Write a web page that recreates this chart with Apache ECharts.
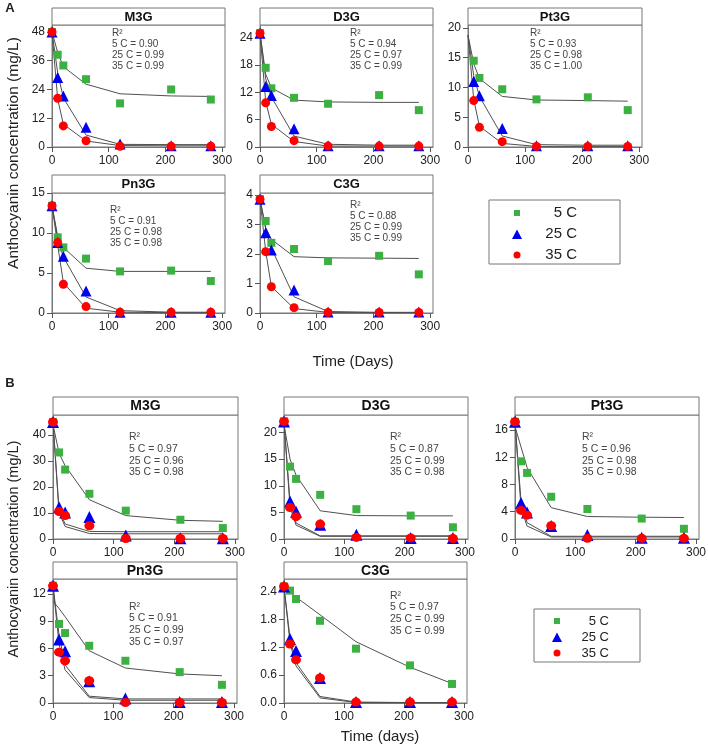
<!DOCTYPE html>
<html><head><meta charset="utf-8">
<script src="https://cdn.jsdelivr.net/npm/echarts@6/dist/echarts.min.js"></script>
<style>html,body{margin:0;padding:0;background:#fff}#c{width:708px;height:746px}</style>
</head><body><div id="c"></div>
<script>
// ---- data ----
const days = [0, 10, 20, 60, 120, 210, 280];
const temps = ['5 C', '25 C', '35 C'];
const xTicks = [0, 100, 200, 300];

// Panel A
const aM3G_obs = [[48, 38.5, 34, 28.3, 18.2, 24, 19.8], [48, 29, 21.3, 8.2, 1.2, 0.5, 0.5], [48, 20.3, 8.8, 2.6, 0.3, 0.3, 0.3]];
const aM3G_fit = [[48, 39.5, 33.5, 26.2, 22.2, 21.3, 21.1], [48, 31, 20.5, 5, 1.1, 1, 1], [48, 20, 9.5, 2.5, 0.6, 0.5, 0.5]];
const aM3G_r2 = ['0.90', '0.99', '0.99'];
const aM3G_yTicks = [0, 12, 24, 36, 48];

const aD3G_obs = [[25, 17.4, 12.9, 10.8, 9.5, 11.4, 8.1], [25, 13.3, 11.3, 4, 0.3, 0.3, 0.3], [25, 9.7, 4.5, 1.4, 0.2, 0.2, 0.2]];
const aD3G_fit = [[25, 16, 13, 10.3, 9.9, 9.8, 9.8], [25, 15, 11, 2.4, 0.6, 0.4, 0.4], [25, 10, 5, 1.2, 0.2, 0.2, 0.2]];
const aD3G_r2 = ['0.94', '0.97', '0.99'];
const aD3G_yTicks = [0, 6, 12, 18, 24];

const aPt3G_obs = [[null, 14.5, 11.6, 9.7, 8.0, 8.35, 6.2], [null, 11, 8.6, 3.1, 0.2, 0.2, 0.2], [null, 7.8, 3.3, 0.9, 0.1, 0.1, 0.1]];
const aPt3G_fit = [[18.8, 14, 11.5, 8.5, 7.9, 7.8, 7.7], [18.8, 12, 8.5, 1.85, 0.4, 0.3, 0.3], [18.8, 8, 3.5, 0.6, 0.1, 0.1, 0.1]];
const aPt3G_r2 = ['0.93', '0.98', '1.00'];
const aPt3G_yTicks = [0, 5, 10, 15, 20];

const aPn3G_obs = [[13.4, 9.46, 8.2, 6.8, 5.2, 5.3, 4.0], [13.4, 8.8, 7.1, 2.75, 0.1, 0.1, 0.1], [13.4, 8.8, 3.6, 0.8, 0.1, 0.1, 0.1]];
const aPn3G_fit = [[13.4, 9.6, 8.2, 5.6, 5.2, 5.2, 5.2], [13.4, 9.3, 7, 2.0, 0.3, 0.1, 0.1], [13.4, 8.5, 3.8, 0.6, 0.1, 0.05, 0.05]];
const aPn3G_r2 = ['0.91', '0.98', '0.98'];
const aPn3G_yTicks = [0, 5, 10, 15];

const aC3G_obs = [[3.86, 3.12, 2.38, 2.17, 1.76, 1.94, 1.31], [3.86, 2.72, 2.14, 0.78, 0.03, 0.03, 0.03], [3.86, 2.08, 0.89, 0.18, 0.02, 0.02, 0.02]];
const aC3G_fit = [[3.86, 2.9, 2.5, 1.91, 1.87, 1.86, 1.85], [3.86, 2.85, 2.2, 0.55, 0.05, 0.02, 0.02], [3.86, 2.1, 0.9, 0.15, 0.02, 0.02, 0.02]];
const aC3G_r2 = ['0.88', '0.99', '0.99'];
const aC3G_yTicks = [0, 1, 2, 3, 4];

// Panel B
const bM3G_obs = [[45, 33.3, 26.7, 17.4, 10.9, 7.4, 4.2], [45, 12.2, 10.2, 8.5, 1.3, 0.3, 0.3], [45, 10.6, 9.0, 5.1, 0.2, 0.2, 0.2]];
const bM3G_fit = [[44, 33, 28.2, 15.1, 9.0, 7.2, 6.8], [45, 11, 5.8, 2.9, 2.8, 2.8, 2.8], [45, 10, 4.8, 2.1, 2.0, 2.0, 2.0]];
const bM3G_r2 = ['0.97', '0.96', '0.98'];
const bM3G_yTicks = [0, 10, 20, 30, 40];

const bD3G_obs = [[22.1, 13.6, 11.3, 8.3, 5.6, 4.4, 2.2], [22.1, 7.05, 5.1, 2.7, 0.8, 0.2, 0.2], [22.1, 5.9, 4.2, 2.8, 0.3, 0.2, 0.1]];
const bD3G_fit = [[21.5, 15, 12, 5.3, 4.4, 4.35, 4.35], [22, 7, 3.0, 0.6, 0.6, 0.6, 0.6], [22, 6, 2.6, 0.5, 0.5, 0.5, 0.5]];
const bD3G_r2 = ['0.87', '0.99', '0.98'];
const bD3G_yTicks = [0, 5, 10, 15, 20];

const bPt3G_obs = [[17.2, 11.4, 9.7, 6.2, 4.4, 3.0, 1.5], [17.2, 5.3, 3.9, 1.9, 0.6, 0.2, 0.2], [17.2, 4.2, 3.5, 1.95, 0.1, 0.1, 0.1]];
const bPt3G_fit = [[16.5, 13.5, 10.5, 4.6, 3.3, 3.2, 3.15], [17.2, 5.5, 2.4, 0.4, 0.4, 0.4, 0.4], [17.2, 4.5, 1.9, 0.3, 0.3, 0.3, 0.3]];
const bPt3G_r2 = ['0.96', '0.98', '0.98'];
const bPt3G_yTicks = [0, 4, 8, 12, 16];

const bPn3G_obs = [[12.9, 8.7, 7.7, 6.3, 4.65, 3.4, 2.0], [12.9, 7.0, 5.7, 2.4, 0.5, 0.1, 0.1], [12.9, 5.6, 4.65, 2.45, 0.05, 0.05, 0.05]];
const bPn3G_fit = [[11.2, 10.4, 9.5, 5.75, 3.85, 3.2, 3.0], [12.9, 7.5, 4.2, 0.75, 0.45, 0.45, 0.45], [12.9, 6.5, 3.65, 0.6, 0.3, 0.3, 0.3]];
const bPn3G_r2 = ['0.91', '0.99', '0.97'];
const bPn3G_yTicks = [0, 3, 6, 9, 12];

const bC3G_obs = [[2.51, 2.42, 2.24, 1.77, 1.17, 0.81, 0.41], [2.51, 1.38, 1.12, 0.54, 0.02, 0.02, 0.02], [2.51, 1.27, 0.93, 0.54, 0.02, 0.02, 0.02]];
const bC3G_fit = [[2.5, 2.4, 2.28, 1.9, 1.32, 0.77, 0.42], [2.5, 1.4, 0.87, 0.14, 0.02, 0.01, 0.01], [2.5, 1.3, 0.8, 0.11, 0.01, 0.01, 0.01]];
const bC3G_r2 = ['0.97', '0.99', '0.99'];
const bC3G_yTicks = [0, 0.6, 1.2, 1.8, 2.4];

// ---- layout / style ----
const FONT = "'Liberation Sans', Arial, sans-serif";
const colors = ['#3cb043', '#0000f0', '#ff0000'];
const symbols = ['rect', 'triangle', 'circle'];
const frameColor = '#777';

const panels = [
  {title:'M3G', obs:aM3G_obs, fit:aM3G_fit, r2:aM3G_r2, yTicks:aM3G_yTicks, yMax:50.9, left:52, top:25, w:173, h:122, hTop:8, rx:112, ry:28, b:false},
  {title:'D3G', obs:aD3G_obs, fit:aD3G_fit, r2:aD3G_r2, yTicks:aD3G_yTicks, yMax:26.8, left:260, top:25, w:173, h:122, hTop:8, rx:350, ry:28, b:false},
  {title:'Pt3G', obs:aPt3G_obs, fit:aPt3G_fit, r2:aPt3G_r2, yTicks:aPt3G_yTicks, yMax:20.5, left:468, top:25, w:174, h:122, hTop:8, rx:530, ry:28, b:false},
  {title:'Pn3G', obs:aPn3G_obs, fit:aPn3G_fit, r2:aPn3G_r2, yTicks:aPn3G_yTicks, yMax:15, left:52, top:193, w:173, h:120, hTop:175, rx:110, ry:205, b:false},
  {title:'C3G', obs:aC3G_obs, fit:aC3G_fit, r2:aC3G_r2, yTicks:aC3G_yTicks, yMax:4.07, left:260, top:193, w:173, h:120, hTop:175, rx:350, ry:200, b:false},
  {title:'M3G', obs:bM3G_obs, fit:bM3G_fit, r2:bM3G_r2, yTicks:bM3G_yTicks, yMax:47.7, left:53, top:415, w:185, h:124, hTop:397, rx:129, ry:431.5, b:true},
  {title:'D3G', obs:bD3G_obs, fit:bD3G_fit, r2:bD3G_r2, yTicks:bD3G_yTicks, yMax:23.3, left:284, top:415, w:184, h:124, hTop:397, rx:390, ry:431.5, b:true},
  {title:'Pt3G', obs:bPt3G_obs, fit:bPt3G_fit, r2:bPt3G_r2, yTicks:bPt3G_yTicks, yMax:18.2, left:515, top:415, w:184, h:124, hTop:397, rx:582, ry:431.5, b:true},
  {title:'Pn3G', obs:bPn3G_obs, fit:bPn3G_fit, r2:bPn3G_r2, yTicks:bPn3G_yTicks, yMax:13.65, left:53, top:579, w:184, h:124, hTop:562, rx:129, ry:601, b:true},
  {title:'C3G', obs:bC3G_obs, fit:bC3G_fit, r2:bC3G_r2, yTicks:bC3G_yTicks, yMax:2.67, left:284, top:579, w:183, h:124, hTop:562, rx:390, ry:590, b:true, dec:1}
];

const grids = [], xAxes = [], yAxes = [], series = [], graphics = [];

panels.forEach((p, i) => {
  grids.push({left:p.left, top:p.top, width:p.w, height:p.h, show:true, borderColor:frameColor, borderWidth:1,
    backgroundColor:'transparent', containLabel:false, outerBoundsMode:'none'});
  const lab = {fontFamily:FONT, fontSize:12, color:'#222'};
  xAxes.push({type:'value', gridIndex:i, min:0, max:305,
    axisLine:{show:true, lineStyle:{color:frameColor, width:1}},
    axisTick:{show:true, length:5, customValues:xTicks, lineStyle:{color:'#555'}},
    axisLabel:Object.assign({margin:8, customValues:xTicks}, lab),
    splitLine:{show:false}});
  yAxes.push({type:'value', gridIndex:i, min:0, max:p.yMax,
    axisLine:{show:true, lineStyle:{color:frameColor, width:1}},
    axisTick:{show:true, length:5, customValues:p.yTicks, lineStyle:{color:'#555'}},
    axisLabel:Object.assign({margin:7, customValues:p.yTicks,
      formatter: v => p.dec ? Number(v).toFixed(p.dec) : String(v)}, lab),
    splitLine:{show:false}});
  // fitted lines
  p.fit.forEach((f, k) => {
    series.push({type:'line', name:'fit', xAxisIndex:i, yAxisIndex:i, data:days.map((d, j) => [d, f[j]]),
      symbol:'none', showSymbol:false, silent:true, z:2, clip:false,
      lineStyle:{color:'#505050', width:1}});
  });
  // observations
  p.obs.forEach((o, k) => {
    let size;
    if (k === 0) size = 8;
    else if (k === 1) size = p.b ? 12 : 11;
    else size = p.b ? [10, 9] : 9;
    series.push({type:'scatter', name:temps[k], xAxisIndex:i, yAxisIndex:i,
      data:days.map((d, j) => [d, o[j]]).filter(q => q[1] !== null),
      symbol:symbols[k], symbolSize:size, clip:false, z:3,
      itemStyle:{color:colors[k], opacity:1}});
  });
  // header strip
  const hh = p.top - p.hTop;
  graphics.push({type:'rect', shape:{x:p.left, y:p.hTop, width:p.w, height:hh},
    style:{fill:'#fff', stroke:frameColor, lineWidth:1}, z:10, silent:true});
  graphics.push({type:'text', x:p.left + p.w / 2, y:p.hTop + hh / 2 + 0.5, z:11, silent:true,
    style:{text:p.title, font:'bold ' + (p.b ? 14 : 13) + 'px ' + FONT, fill:'#111',
      align:'center', verticalAlign:'middle', textAlign:'center', textVerticalAlign:'middle'}});
  // R2 annotation
  const lines = ['R\u00B2'].concat(temps.map((t, k) => t + ' = ' + p.r2[k]));
  graphics.push({type:'text', x:p.rx, y:p.ry, z:11, silent:true,
    style:{text:lines.join('\n'), font:(p.b ? 10.5 : 10) + 'px ' + FONT, fill:'#444',
      lineHeight:p.b ? 11.7 : 11, align:'left', verticalAlign:'top', textAlign:'left', textVerticalAlign:'top'}});
});

// figure labels
function addText(txt, x, y, font, rot) {
  graphics.push({type:'text', x:x, y:y, rotation:rot || 0, z:11, silent:true,
    style:{text:txt, font:font, fill:'#222', align:'center', verticalAlign:'middle', textAlign:'center', textVerticalAlign:'middle'}});
}
addText('A', 10, 8, 'bold 13px ' + FONT);
addText('B', 10, 383, 'bold 13px ' + FONT);
addText('Anthocyanin concentration (mg/L)', 14, 153, '15.5px ' + FONT, Math.PI / 2);
addText('Anthocyanin concentration (mg/L)', 13.5, 549, '14.5px ' + FONT, Math.PI / 2);
addText('Time (Days)', 353, 362, '15px ' + FONT);
addText('Time (days)', 380, 737, '15px ' + FONT);

const iconSquare = 'path://M0,0M12,12M3,3L9,3L9,9L3,9Z';
const iconTri = 'path://M0,0M12,12M1,11L6,1.5L11,11Z';
const iconCircle = 'path://M0,0M12,12M2.5,6A3.5,3.5,0,1,1,9.5,6A3.5,3.5,0,1,1,2.5,6Z';
const legendData = [{name:temps[0], icon:iconSquare}, {name:temps[1], icon:iconTri}, {name:temps[2], icon:iconCircle}];

function makeLegend(left, top, fs, textW, pad, gap) {
  return {orient:'vertical', left:left, top:top, data:legendData, itemWidth:12, itemHeight:12, itemGap:gap,
    padding:pad, borderColor:frameColor, borderWidth:1, backgroundColor:'#fff', selectedMode:false,
    formatter: n => '{t|' + n + '}',
    textStyle:{fontFamily:FONT, fontSize:fs, color:'#222',
      rich:{t:{width:textW, align:'right', fontSize:fs, lineHeight:fs, fontFamily:FONT, color:'#222'}}}};
}

const option = {
  animation:false,
  backgroundColor:'#fff',
  grid:grids, xAxis:xAxes, yAxis:yAxes, series:series,
  legend:[makeLegend(489, 200, 15, 49, [5.5, 43, 1.5, 22], 6), makeLegend(534, 609, 13, 41, [5.5, 31, 2.5, 17], 3)],
  graphic:{elements:graphics}
};

const chart = echarts.init(document.getElementById('c'));
chart.setOption(option);
</script></body></html>
